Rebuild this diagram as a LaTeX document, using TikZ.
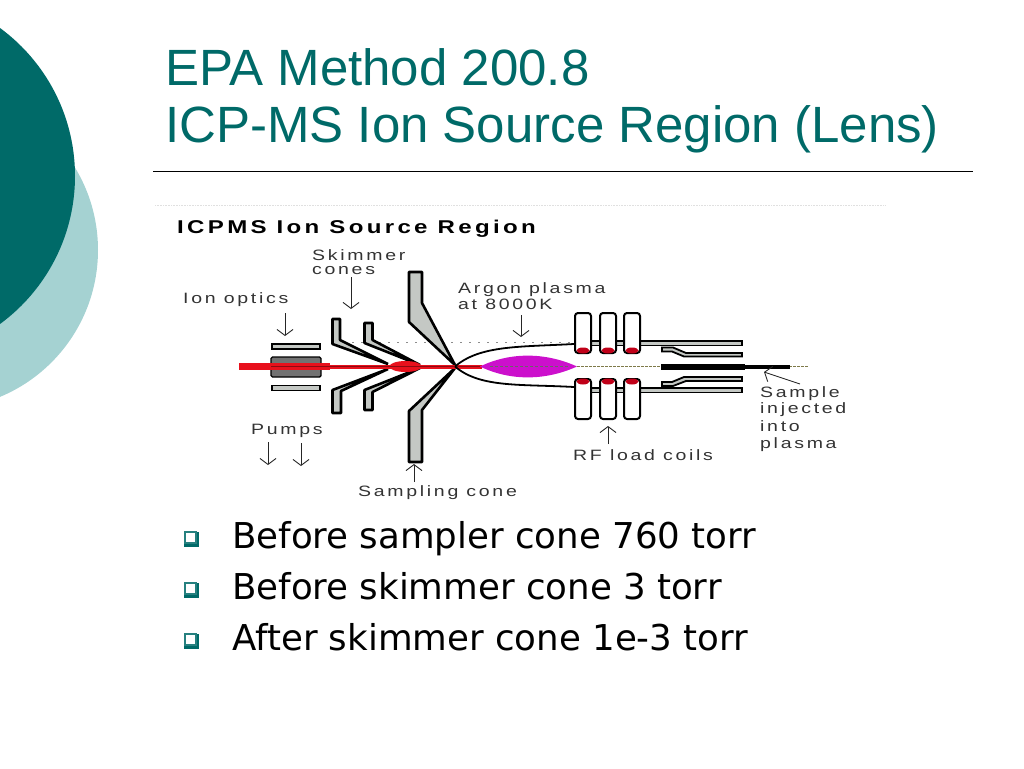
\documentclass[tikz,border=0pt]{standalone}
\usepackage{fontspec}
\setmainfont{Liberation Sans}
\newfontfamily\bulletfont[Ligatures=NoCommon]{DejaVu Sans}
\newfontfamily\labelfont[LetterSpace=18,FakeStretch=1.3]{Liberation Sans}
\usetikzlibrary{arrows.meta}
\definecolor{slideteal}{HTML}{006A68}
\definecolor{slidepale}{HTML}{A5D2D2}
\definecolor{conegray}{HTML}{C4C8C4}
\definecolor{lensgray}{HTML}{727272}
\definecolor{beamred}{HTML}{E8101C}
\definecolor{coilred}{HTML}{C00018}
\definecolor{plasmapink}{HTML}{CC10CC}
\tikzset{
	titletext/.style={anchor=west, inner sep=0pt, text=slideteal, font=\fontsize{51}{51}\selectfont},
	itemtext/.style={anchor=base west, inner sep=0pt, font=\bulletfont\fontsize{35.6}{36}\selectfont},
	itembox/.style={draw=slideteal!85, fill=white, line width=1.3pt, inner sep=0pt, minimum size=11pt},
	itemback/.style={fill=slideteal, inner sep=0pt, minimum size=15pt},
	parttext/.style={anchor=west, inner sep=0pt, yshift=-1pt, text=black!80, font=\labelfont\fontsize{15}{16}\selectfont},
	ptr/.style={-{Straight Barb[length=6pt,width=16pt]}, line width=0.9pt, black!85},
	conewall/.style={draw=black, fill=conegray, line width=2.6pt, line join=bevel},
	tubewall/.style={draw=black, fill=conegray, line width=1.8pt},
	coil/.style={draw=black, fill=white, line width=2pt, rounded corners=3pt}
}
\begin{document}
\begin{tikzpicture}[x=1pt,y=-1pt]
	\useasboundingbox (0,0) rectangle (1024,768);

	\begin{scope}
		\clip (0,0) rectangle (1024,768);
		\fill[slidepale] (-61,250) circle (159);
		\fill[slideteal] (-108.5,176) circle (183.5);
	\end{scope}

	\node[titletext] (title1) at (165,67) {EPA Method 200.8};
	\node[titletext] (title2) at (165,129) {ICP-MS Ion Source Region (Lens)};
	\draw[line width=1pt] (153,171) -- (973,171);
	\draw[black!12, densely dotted, line width=0.6pt] (155,205) -- (885,205);

	\node[anchor=west, inner sep=0pt, yshift=-1pt, font=\labelfont\bfseries\fontsize{18.5}{19}\selectfont] (heading) at (177,228) {ICPMS Ion Source Region};

	% dotted line over the torch
	\draw[black!45, dash pattern=on 2pt off 7pt, line width=0.7pt] (343,342) -- (572,342);

	% ion optics
	\draw[tubewall] (272,344) rectangle (320,349);
	\draw[tubewall] (272,385.5) rectangle (320,390.5);
	\draw[fill=lensgray, line width=1.4pt, rounded corners=1.5pt] (271,357) rectangle (321,377);

	% skimmer cones
	\draw[conewall] (332.5,319) -- (340,319) -- (340,340) -- (388,364) -- (332.5,344) -- cycle;
	\draw[conewall] (332.5,413) -- (341,413) -- (341,391) -- (388,369) -- (332.5,390) -- cycle;
	\draw[conewall] (364.5,323) -- (372.5,323) -- (372.5,340) -- (420,365) -- (364.5,343) -- cycle;
	\draw[conewall] (364.5,410) -- (372.5,410) -- (372.5,392) -- (420,368) -- (364.5,390) -- cycle;

	% sampling cone
	\draw[conewall] (409,272) -- (422,272) -- (422,303) -- (455,365) -- (409,322) -- cycle;
	\draw[conewall] (409,462) -- (422,462) -- (422,410) -- (455,368) -- (409,411) -- cycle;

	% beam
	\draw[beamred, line width=7pt] (239,366.5) -- (330,366.5);
	\draw[beamred, line width=4pt] (330,366.5) -- (482,366.5);
	\fill[beamred] (405.5,366.5) ellipse (16 and 5.5);
	\draw[beamred!60!black, line width=0.7pt] (271,366.5) -- (480,366.5);

	% plasma and its envelope
	\draw[line width=1.8pt] (455,366.5) .. controls (480,345) and (520,347) .. (574,344);
	\draw[line width=1.8pt] (455,366.5) .. controls (480,388) and (520,384) .. (574,387);
	\fill[plasmapink] (480,366.5) .. controls (510,352) and (545,352) .. (577,366.5) .. controls (545,381) and (510,381) .. (480,366.5) -- cycle;
	\draw[black!60, densely dashed, line width=0.5pt] (490,366.5) -- (570,366.5);

	% torch tubes
	\draw[tubewall] (585,341) rectangle (742,345.5);
	\draw[tubewall] (585,388) rectangle (742,392.5);
	\draw[tubewall] (662,347.5) -- (673,347.5) -- (686,353) -- (742,353) -- (742,356.5) -- (684,356.5) -- (672,351.5) -- (662,351.5) -- cycle;
	\draw[tubewall] (662,386) -- (673,386) -- (686,381) -- (742,381) -- (742,377) -- (684,377) -- (672,382) -- (662,382) -- cycle;

	% sample tube
	\draw[black!40!yellow!70!black, dash pattern=on 3pt off 1pt, line width=0.8pt] (577,366.5) -- (808,366.5);
	\fill (661,363.5) rectangle (745,370);
	\fill (745,364.5) rectangle (790,369);

	% load coils
	\foreach \x in {575,600,624} {
		\draw[coil] (\x,313) rectangle (\x+16,353);
		\draw[coil] (\x,379) rectangle (\x+16,419);
		\fill[coilred] (\x+8,350.5) ellipse (6.5 and 3);
		\fill[coilred] (\x+8,381.5) ellipse (6.5 and 3);
	}

	% labels
	\node[parttext, align=left] (skimmer) at (312,261) {Skimmer\\[-1.5pt]cones};
	\node[parttext] (optics) at (183,299) {Ion optics};
	\node[parttext, align=left] (argon) at (458,295) {Argon plasma\\[-.5pt]at 8000K};
	\node[parttext] (pumps) at (251,430) {Pumps};
	\node[parttext] (sampling) at (358,492) {Sampling cone};
	\node[parttext] (coils) at (573,454) {RF load coils};
	\node[parttext, align=left] (sample) at (760,418) {Sample\\[.5pt]injected\\[2pt]into\\[.5pt]plasma};

	\coordinate (skimmertail) at (351,277);
	\coordinate (skimmerhead) at (351,309);
	\coordinate (opticstail) at (285,313);
	\coordinate (opticshead) at (285,336);
	\coordinate (argontail) at (521,315);
	\coordinate (argonhead) at (521,337);
	\coordinate (pumpAtail) at (268,442);
	\coordinate (pumpAhead) at (268,465);
	\coordinate (pumpBtail) at (301,443);
	\coordinate (pumpBhead) at (301,466);
	\coordinate (samplingtail) at (414,482);
	\coordinate (samplinghead) at (414,464);
	\coordinate (coilstail) at (608,444);
	\coordinate (coilshead) at (608,426);
	\coordinate (sampletail) at (800,384);
	\coordinate (samplehead) at (764,372);

	\draw[ptr] (skimmertail) -- (skimmerhead);
	\draw[ptr] (opticstail) -- (opticshead);
	\draw[ptr] (argontail) -- (argonhead);
	\draw[ptr] (pumpAtail) -- (pumpAhead);
	\draw[ptr] (pumpBtail) -- (pumpBhead);
	\draw[ptr] (samplingtail) -- (samplinghead);
	\draw[ptr] (coilstail) -- (coilshead);
	\draw[ptr] (sampletail) -- (samplehead);

	% bullet list
	\foreach \y/\nm/\txt in {548/first/Before sampler cone 760 torr, 599/second/Before skimmer cone 3 torr, 650/third/After skimmer cone 1e-3 torr} {
		\node[itemback] (back\nm) at (191.5,\y-9) {};
		\node[itembox] (box\nm) at (190.5,\y-10.5) {};
		\node[itemtext] (item\nm) at (232,\y) {\txt};
	}
\end{tikzpicture}
\end{document}
